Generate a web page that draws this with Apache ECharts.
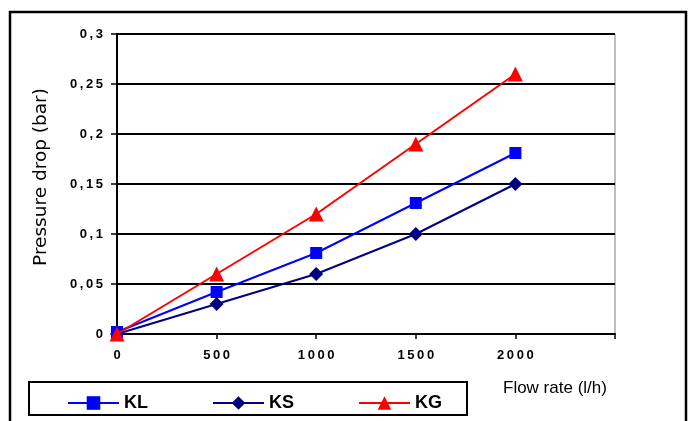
<!DOCTYPE html>
<html>
<head>
<meta charset="utf-8">
<script src="https://cdn.jsdelivr.net/npm/echarts@6/dist/echarts.min.js"></script>
<style>
html,body{margin:0;padding:0;background:#fff;}
#c{width:689px;height:421px;}
</style>
</head>
<body>
<div id="c"></div>
<script>
var flowRates = [0, 500, 1000, 1500, 2000];
var klValues = [0.002, 0.042, 0.081, 0.131, 0.181];
var ksValues = [0, 0.030, 0.060, 0.100, 0.150];
var kgValues = [0, 0.060, 0.120, 0.190, 0.260];
var seriesNames = ['KL', 'KS', 'KG'];
var xTickLabels = ['0', '500', '1000', '1500', '2000'];
var xAxisTitle = 'Flow rate (l/h)';
var yAxisTitle = 'Pressure drop (bar)';

function spaced(s) { return s.split('').join('\u2009'); }
function pairs(xs, ys) { return xs.map(function (x, i) { return [x, ys[i]]; }); }

var chart = echarts.init(document.getElementById('c'), null, { renderer: 'canvas' });
var tickFont = { fontFamily: 'Liberation Sans', fontWeight: 'bold', fontSize: 13, color: '#000' };

chart.setOption({
  animation: false,
  backgroundColor: '#fff',
  grid: { left: 117, top: 34, right: 74, bottom: 87, show: true, borderColor: '#808080', borderWidth: 1, backgroundColor: 'transparent' },
  xAxis: {
    type: 'value', min: 0, max: 2500, interval: 500,
    axisLine: { show: true, lineStyle: { color: '#000', width: 2 } },
    axisTick: { show: true, length: 5, lineStyle: { color: '#000', width: 1.5 } },
    splitLine: { show: false },
    axisLabel: Object.assign({ margin: 15, formatter: function (v) {
      var i = flowRates.indexOf(v);
      return i >= 0 ? spaced(xTickLabels[i]) : '';
    } }, tickFont)
  },
  yAxis: {
    type: 'value', min: 0, max: 0.3, interval: 0.05,
    name: yAxisTitle, nameLocation: 'middle', nameGap: 66,
    nameTextStyle: { fontFamily: 'DejaVu Sans', fontSize: 18.5, color: '#000', padding: [0, 0, 0, 14] },
    axisLine: { show: true, lineStyle: { color: '#000', width: 2 } },
    axisTick: { show: true, length: 6, lineStyle: { color: '#000', width: 1.5 } },
    splitLine: { show: true, lineStyle: { color: '#000', width: 2 } },
    axisLabel: Object.assign({ margin: 14, formatter: function (v) {
      var s = (Math.round(v * 100) / 100).toString().replace('.', ',');
      return spaced(s);
    } }, tickFont)
  },
  legend: {
    left: 62, top: 389,
    itemWidth: 51, itemHeight: 17, itemGap: 64,
    textStyle: { fontFamily: 'Liberation Sans', fontWeight: 'bold', fontSize: 18, color: '#000', padding: [0, 0, 0, 0] },
    data: seriesNames
  },
  graphic: [
    { type: 'rect', shape: { x: 10, y: 12, width: 676, height: 420 }, style: { fill: 'none', stroke: '#000', lineWidth: 2.5 }, silent: true },
    { type: 'rect', shape: { x: 29, y: 382, width: 438, height: 33 }, style: { fill: 'none', stroke: '#000', lineWidth: 2 }, silent: true },
    { type: 'text', x: 503, y: 388, style: { text: xAxisTitle, fontFamily: 'Liberation Sans', fontSize: 17, fill: '#000', textAlign: 'left', textVerticalAlign: 'middle' } }
  ],
  series: [
    { name: seriesNames[0], type: 'line', data: pairs(flowRates, klValues), symbol: 'rect', symbolSize: 12,
      lineStyle: { color: '#0000ff', width: 2 }, itemStyle: { color: '#0000ff' }, z: 3 },
    { name: seriesNames[1], type: 'line', data: pairs(flowRates, ksValues), symbol: 'diamond', symbolSize: 14,
      lineStyle: { color: '#000080', width: 2 }, itemStyle: { color: '#000080' }, z: 2 },
    { name: seriesNames[2], type: 'line', data: pairs(flowRates, kgValues), symbol: 'triangle', symbolSize: 15,
      lineStyle: { color: '#ff0000', width: 2 }, itemStyle: { color: '#ff0000' }, z: 4 }
  ]
});
</script>
</body>
</html>
